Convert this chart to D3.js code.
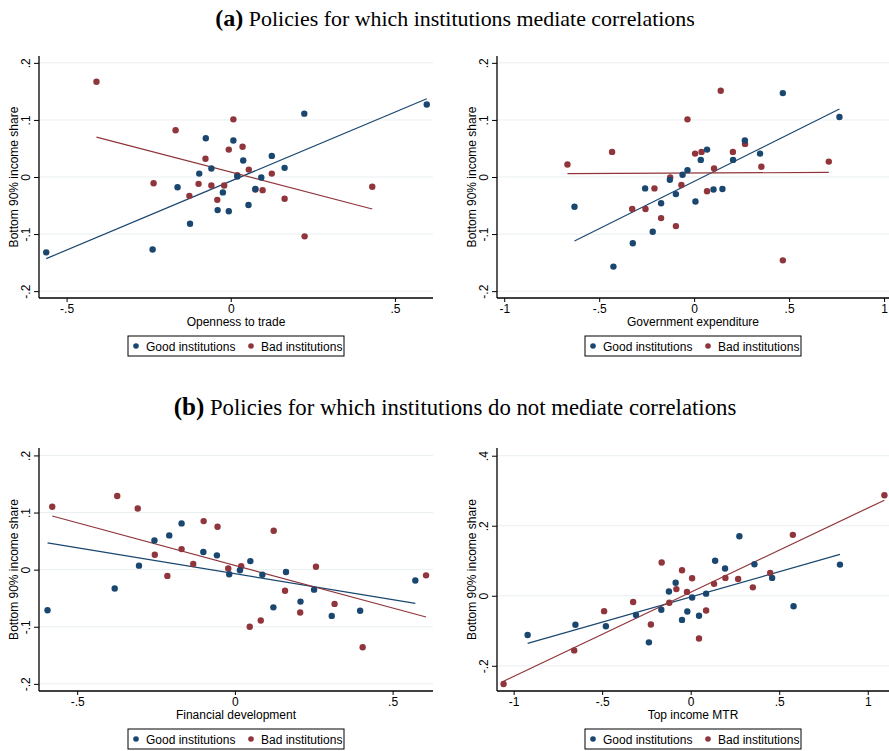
<!DOCTYPE html>
<html>
<head>
<meta charset="utf-8">
<script src="https://cdn.jsdelivr.net/npm/d3@7"></script>
<style>
  body { margin: 0; background: #fff; }
  svg { display: block; }
</style>
</head>
<body>
<script>
// points: [x, y]
const openGood = [[-0.562,-0.132],[-0.238,-0.127],[-0.162,-0.018],[-0.124,-0.082],[-0.096,0.006],[-0.076,0.068],
  [-0.059,0.015],[-0.040,-0.058],[-0.024,-0.027],[-0.006,-0.060],[0.008,0.064],[0.020,0.001],[0.038,0.029],
  [0.054,-0.049],[0.075,-0.021],[0.093,-0.001],[0.125,0.037],[0.164,0.016],[0.224,0.111],[0.597,0.127]];
const openBad = [[-0.409,0.167],[-0.235,-0.011],[-0.168,0.082],[-0.126,-0.033],[-0.098,-0.012],[-0.077,0.032],
  [-0.059,-0.015],[-0.041,-0.040],[-0.020,-0.015],[-0.006,0.048],[0.008,0.101],[0.020,0.003],[0.036,0.053],
  [0.055,0.013],[0.075,-0.022],[0.097,-0.023],[0.125,0.006],[0.164,-0.038],[0.225,-0.104],[0.431,-0.017]];
const openGoodFit = [[-0.562,-0.143],[0.597,0.137]];
const openBadFit = [[-0.409,0.070],[0.431,-0.056]];

const govGood = [[-0.630,-0.052],[-0.425,-0.157],[-0.323,-0.116],[-0.258,-0.020],[-0.218,-0.096],[-0.174,-0.046],
  [-0.128,-0.005],[-0.096,-0.030],[-0.061,0.004],[-0.035,0.012],[0.007,-0.043],[0.035,0.030],[0.068,0.048],
  [0.102,-0.022],[0.149,-0.021],[0.205,0.030],[0.267,0.064],[0.347,0.041],[0.467,0.147],[0.765,0.105]];
const govBad = [[-0.667,0.022],[-0.432,0.044],[-0.326,-0.056],[-0.256,-0.056],[-0.209,-0.020],[-0.174,-0.072],
  [-0.126,-0.001],[-0.096,-0.086],[-0.067,-0.014],[-0.035,0.101],[0.005,0.041],[0.039,0.044],[0.068,-0.025],
  [0.105,0.015],[0.140,0.151],[0.204,0.044],[0.268,0.058],[0.354,0.018],[0.467,-0.146],[0.709,0.027]];
const govGoodFit = [[-0.630,-0.112],[0.765,0.119]];
const govBadFit = [[-0.667,0.006],[0.709,0.008]];

const finGood = [[-0.594,-0.071],[-0.381,-0.033],[-0.304,0.007],[-0.255,0.051],[-0.208,0.060],[-0.169,0.081],
  [-0.100,0.031],[-0.057,0.025],[-0.018,-0.008],[0.016,-0.001],[0.049,0.015],[0.087,-0.009],[0.122,-0.066],
  [0.162,-0.004],[0.208,-0.056],[0.251,-0.035],[0.307,-0.081],[0.397,-0.072],[0.572,-0.019]];
const finBad = [[-0.579,0.110],[-0.373,0.129],[-0.308,0.107],[-0.254,0.026],[-0.214,-0.011],[-0.169,0.036],
  [-0.132,0.010],[-0.099,0.085],[-0.055,0.075],[-0.021,0.002],[0.020,0.006],[0.047,-0.100],[0.082,-0.089],
  [0.123,0.068],[0.159,-0.037],[0.207,-0.075],[0.257,0.005],[0.316,-0.060],[0.405,-0.136],[0.606,-0.010]];
const finGoodFit = [[-0.594,0.047],[0.572,-0.059]];
const finBadFit = [[-0.579,0.094],[0.606,-0.083]];

const mtrGood = [[-0.921,-0.112],[-0.651,-0.083],[-0.479,-0.087],[-0.309,-0.055],[-0.236,-0.133],[-0.166,-0.040],
  [-0.123,0.012],[-0.085,0.037],[-0.049,-0.069],[-0.019,-0.045],[0.008,-0.005],[0.047,-0.057],[0.087,0.006],
  [0.138,0.100],[0.194,0.078],[0.275,0.170],[0.360,0.090],[0.460,0.051],[0.581,-0.030],[0.843,0.089]];
const mtrBad = [[-1.057,-0.252],[-0.658,-0.156],[-0.489,-0.044],[-0.325,-0.018],[-0.225,-0.082],[-0.164,0.095],
  [-0.121,-0.020],[-0.081,0.019],[-0.049,0.073],[-0.021,0.011],[0.008,0.050],[0.047,-0.122],[0.087,-0.042],
  [0.132,0.034],[0.196,0.051],[0.268,0.048],[0.351,0.024],[0.449,0.065],[0.577,0.174],[1.094,0.287]];
const mtrGoodFit = [[-0.921,-0.136],[0.843,0.118]];
const mtrBadFit = [[-1.057,-0.244],[1.094,0.273]];

// tick values and labels
const ticksHalf = [-0.5, 0, 0.5];
const ticksOne = [-1, -0.5, 0, 0.5, 1];
const ticksY = [-0.2, -0.1, 0, 0.1, 0.2];
const ticksY4 = [-0.2, 0, 0.2, 0.4];
const xTitles = ["Openness to trade", "Government expenditure", "Financial development", "Top income MTR"];
const yTitle = "Bottom 90% income share";
const legendLabels = ["Good institutions", "Bad institutions"];
const sectionTitles = [["(a)", " Policies for which institutions mediate correlations"],
  ["(b)", " Policies for which institutions do not mediate correlations"]];

const w = 889, h = 751;
const navy = "#1a476f", maroon = "#90353b";
const grid = "#e9eff1";

// stata style labels: .5, -.1, 0
const fmt = v => {
  if (v === 0) return "0";
  let s = String(+v.toFixed(2));
  return s.replace("0.", ".");
};

const svg = d3.select("body").append("svg")
  .attr("width", w)
  .attr("height", h)
  .style("font-family", "Arial, 'Liberation Sans', sans-serif");

function panel(opt) {
  const x = d3.scaleLinear().domain(opt.xdom).range([opt.left, opt.right]);
  const y = d3.scaleLinear().domain(opt.ydom).range([opt.bottom, opt.top]);
  const g = svg.append("g");

  g.selectAll(".grid")
    .data(opt.yticks)
    .enter()
    .append("line")
    .attr("x1", opt.left)
    .attr("x2", opt.right)
    .attr("y1", d => y(d))
    .attr("y2", d => y(d))
    .attr("stroke", grid)
    .attr("stroke-width", 1);

  const xAxis = d3.axisBottom(x).tickValues(opt.xticks).tickFormat(fmt).tickSize(4).tickSizeOuter(0);
  const yAxis = d3.axisLeft(y).tickValues(opt.yticks).tickFormat(fmt).tickSize(5).tickSizeOuter(0);

  const gx = g.append("g")
    .attr("transform", "translate(0," + opt.bottom + ")")
    .call(xAxis);
  gx.select(".domain").attr("d", "M" + opt.left + ",0H" + opt.right).attr("stroke", "#000").attr("stroke-width", 1.3);
  gx.selectAll(".tick line").attr("stroke", "#000");
  gx.selectAll(".tick text").attr("font-size", 12).attr("font-family", null).attr("fill", "#000").attr("dy", null).attr("y", 15);

  const gy = g.append("g")
    .attr("transform", "translate(" + opt.left + ",0)")
    .call(yAxis);
  gy.select(".domain").attr("d", "M0," + opt.top + "V" + opt.bottom).attr("stroke", "#000").attr("stroke-width", 1.3);
  gy.selectAll(".tick line").attr("stroke", "#000");
  gy.selectAll(".tick text")
    .attr("font-size", 12).attr("font-family", null).attr("fill", "#000")
    .attr("x", null).attr("dy", null)
    .attr("text-anchor", "middle")
    .attr("transform", "translate(-9,0) rotate(-90)");

  g.append("text")
    .text(yTitle)
    .attr("font-size", 12)
    .attr("text-anchor", "middle")
    .attr("transform", "translate(" + (opt.left - 21) + "," + ((opt.top + opt.bottom) / 2) + ") rotate(-90)");

  g.append("text")
    .text(opt.xtitle)
    .attr("font-size", 12)
    .attr("text-anchor", "middle")
    .attr("x", (opt.left + opt.right) / 2)
    .attr("y", opt.bottom + 28);

  const line = d3.line().x(d => x(d[0])).y(d => y(d[1]));
  [[opt.goodFit, navy], [opt.badFit, maroon]].forEach(function(f) {
    g.append("path")
      .attr("d", line(f[0]))
      .attr("fill", "none")
      .attr("stroke", f[1])
      .attr("stroke-width", 1.2);
  });

  [[opt.bad, maroon], [opt.good, navy]].forEach(function(s) {
    g.append("g").selectAll("circle")
      .data(s[0])
      .enter()
      .append("circle")
      .attr("cx", d => x(d[0]))
      .attr("cy", d => y(d[1]))
      .attr("r", 3.2)
      .attr("fill", s[1]);
  });

  // legend
  const cx = (opt.left + opt.right) / 2;
  const lg = g.append("g").attr("transform", "translate(" + (cx - 108) + "," + (opt.bottom + 38) + ")");
  lg.append("rect")
    .attr("width", 216)
    .attr("height", 20)
    .attr("fill", "#fff")
    .attr("stroke", "#000")
    .attr("stroke-width", 1);
  [[navy, 0], [maroon, 115]].forEach(function(e, i) {
    lg.append("circle").attr("cx", 8 + e[1]).attr("cy", 10).attr("r", 2.8).attr("fill", e[0]);
    lg.append("text")
      .text(legendLabels[i])
      .attr("font-size", 12)
      .attr("x", 18 + e[1])
      .attr("y", 14.5);
  });
}

panel({ left: 39, right: 433, top: 56, bottom: 298, xdom: [-0.584, 0.616], ydom: [-0.212, 0.212],
  xticks: ticksHalf, yticks: ticksY, xtitle: xTitles[0],
  good: openGood, bad: openBad, goodFit: openGoodFit, badFit: openBadFit });
panel({ left: 497, right: 889, top: 56, bottom: 298, xdom: [-1.038, 1.026], ydom: [-0.212, 0.212],
  xticks: ticksOne, yticks: ticksY, xtitle: xTitles[1],
  good: govGood, bad: govBad, goodFit: govGoodFit, badFit: govBadFit });
panel({ left: 39, right: 433, top: 448, bottom: 691, xdom: [-0.621, 0.628], ydom: [-0.2125, 0.2130],
  xticks: ticksHalf, yticks: ticksY, xtitle: xTitles[2],
  good: finGood, bad: finBad, goodFit: finGoodFit, badFit: finBadFit });
panel({ left: 497, right: 889, top: 448, bottom: 691, xdom: [-1.094, 1.12], ydom: [-0.272, 0.422],
  xticks: ticksOne, yticks: ticksY4, xtitle: xTitles[3],
  good: mtrGood, bad: mtrBad, goodFit: mtrGoodFit, badFit: mtrBadFit });

// section headings
[[26, 480], [415, 563]].forEach(function(p, i) {
  const t = svg.append("text")
    .attr("x", 455)
    .attr("y", p[0])
    .attr("text-anchor", "middle")
    .attr("font-family", "'Liberation Serif', 'DejaVu Serif', serif")
    .attr("font-size", 20)
    .attr("fill", "#000");
  t.append("tspan").attr("font-weight", "bold").attr("font-size", 22).text(sectionTitles[i][0]);
  t.append("tspan").text(sectionTitles[i][1]);
  const len = t.node().getComputedTextLength();
  const k = p[1] / len;
  t.attr("font-size", 20 * k);
  t.select("tspan").attr("font-size", 22 * k);
});
</script>
</body>
</html>
